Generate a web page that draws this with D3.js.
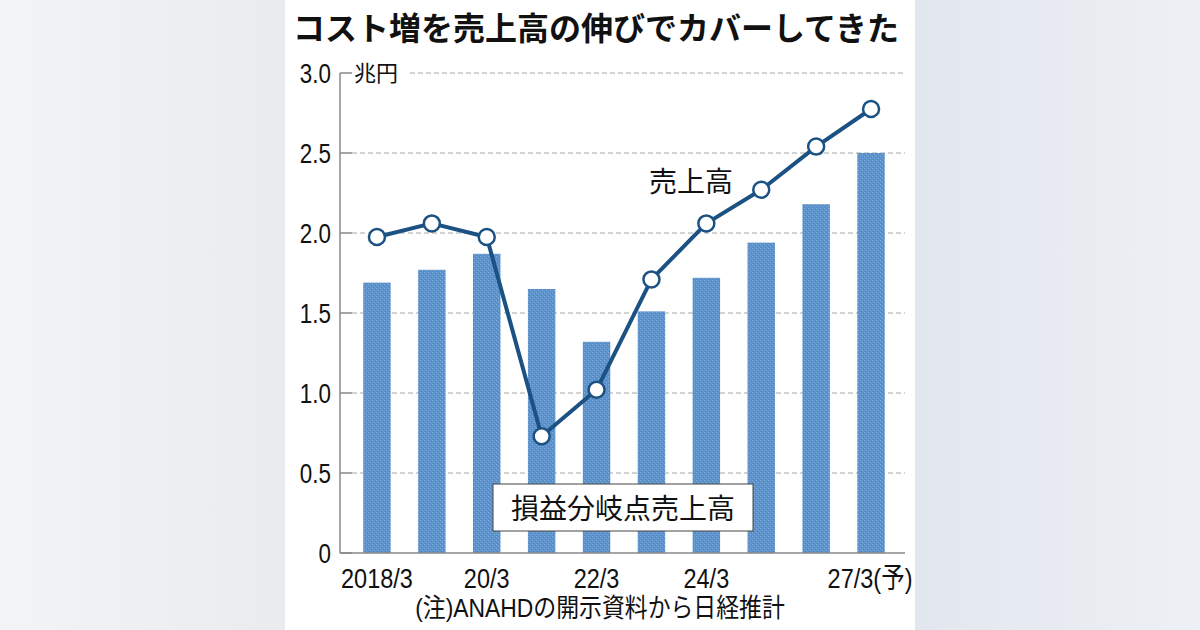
<!DOCTYPE html>
<html lang="ja">
<head>
<meta charset="utf-8">
<title>コスト増を売上高の伸びでカバーしてきた</title>
<script src="https://cdn.jsdelivr.net/npm/d3@7"></script>
<style>
  body { margin: 0; }
  svg { display: block; }
</style>
</head>
<body>
<script>
const width = 1200;
const height = 630;

// data (兆円)
const categories = ["18/3", "19/3", "20/3", "21/3", "22/3", "23/3", "24/3", "25/3", "26/3", "27/3"];
const tickLabels = ["2018/3", "", "20/3", "", "22/3", "", "24/3", "", "", "27/3(予)"];
const breakEven = [1.69, 1.77, 1.87, 1.65, 1.32, 1.51, 1.72, 1.94, 2.18, 2.50];
const sales = [1.975, 2.06, 1.975, 0.73, 1.02, 1.71, 2.06, 2.27, 2.54, 2.775];
const yTicks = [0, 0.5, 1.0, 1.5, 2.0, 2.5, 3.0];

const numFont = "'Liberation Sans', Arial, 'Noto Sans CJK JP', sans-serif";
const jpFont = "'Noto Sans CJK JP', sans-serif";
const lineColor = "#1b5283";

const x = d3.scaleBand()
    .domain(categories)
    .range([349.5, 898.5])
    .paddingInner(0.5)
    .paddingOuter(0.25);

const y = d3.scaleLinear()
    .domain([0, 3])
    .range([553, 73]);

const svg = d3.select("body").append("svg")
    .attr("width", width)
    .attr("height", height);

const defs = svg.append("defs");

// background gradient behind the white panel
const bg = defs.append("linearGradient").attr("id", "bg");
bg.append("stop").attr("offset", "0%").attr("stop-color", "#f3f4f5");
bg.append("stop").attr("offset", "24%").attr("stop-color", "#e9ebee");
bg.append("stop").attr("offset", "76%").attr("stop-color", "#e2e7ef");
bg.append("stop").attr("offset", "100%").attr("stop-color", "#edf0f4");

// speckled bar texture
const pat = defs.append("pattern")
    .attr("id", "barTex")
    .attr("width", 4).attr("height", 4)
    .attr("patternUnits", "userSpaceOnUse");
pat.append("rect").attr("width", 4).attr("height", 4).attr("fill", "#5d93cc");
pat.append("rect").attr("x", 0).attr("y", 0).attr("width", 1).attr("height", 1).attr("fill", "#82addd");
pat.append("rect").attr("x", 2).attr("y", 2).attr("width", 1).attr("height", 1).attr("fill", "#82addd");
pat.append("rect").attr("x", 3).attr("y", 1).attr("width", 1).attr("height", 1).attr("fill", "#5287c2");
pat.append("rect").attr("x", 1).attr("y", 3).attr("width", 1).attr("height", 1).attr("fill", "#5287c2");

svg.append("rect").attr("width", width).attr("height", height).attr("fill", "url(#bg)");
svg.append("rect").attr("x", 285).attr("y", 0).attr("width", 630).attr("height", height).attr("fill", "#fff");

// title
svg.append("text")
    .attr("x", 293).attr("y", 40)
    .attr("font-family", jpFont)
    .attr("font-weight", "bold")
    .attr("font-size", "32px")
    .attr("fill", "#111")
    .text("コスト増を売上高の伸びでカバーしてきた");

// gridlines (dashed) and short solid ticks
const grid = svg.append("g");
grid.selectAll("line.grid")
    .data(yTicks.filter(d => d > 0))
    .join("line")
    .attr("class", "grid")
    .attr("x1", d => d === 3 ? 410 : 352)
    .attr("x2", 905)
    .attr("y1", d => y(d)).attr("y2", d => y(d))
    .attr("stroke", "#a8a8a8")
    .attr("stroke-width", 1)
    .attr("stroke-dasharray", "5,3");

grid.selectAll("line.tick")
    .data(yTicks)
    .join("line")
    .attr("class", "tick")
    .attr("x1", 340).attr("x2", 352)
    .attr("y1", d => y(d)).attr("y2", d => y(d))
    .attr("stroke", "#888")
    .attr("stroke-width", 1.5);

// y tick labels (narrow numerals)
svg.selectAll("text.ylab")
    .data(yTicks)
    .join("text")
    .attr("class", "ylab")
    .attr("transform", d => `translate(331,${y(d) + 10}) scale(0.8,1)`)
    .attr("text-anchor", "end")
    .attr("font-family", numFont)
    .attr("font-size", "28px")
    .attr("fill", "#111")
    .text(d => d === 0 ? "0" : d.toFixed(1));

svg.append("text")
    .attr("x", 354).attr("y", y(3) + 8)
    .attr("font-family", jpFont)
    .attr("font-size", "22px")
    .attr("fill", "#111")
    .text("兆円");

// bars
svg.selectAll("rect.bar")
    .data(breakEven)
    .join("rect")
    .attr("class", "bar")
    .attr("x", (d, i) => x(categories[i]))
    .attr("y", d => y(d))
    .attr("width", x.bandwidth())
    .attr("height", d => y(0) - y(d))
    .attr("fill", "url(#barTex)");

// axis lines
svg.append("line")
    .attr("x1", 340).attr("x2", 340)
    .attr("y1", y(3)).attr("y2", y(0))
    .attr("stroke", "#888").attr("stroke-width", 1.5);
svg.append("line")
    .attr("x1", 340).attr("x2", 905)
    .attr("y1", y(0)).attr("y2", y(0))
    .attr("stroke", "#888").attr("stroke-width", 1.5);

// x labels
svg.selectAll("text.xlab")
    .data(categories)
    .join("text")
    .attr("class", "xlab")
    .attr("transform", (d, i) => `translate(${x(d) + x.bandwidth() / 2 + (i === 9 ? -1 : 0)},588) scale(0.84,1)`)
    .attr("text-anchor", "middle")
    .attr("font-family", numFont)
    .attr("font-size", "28px")
    .attr("fill", "#111")
    .text((d, i) => tickLabels[i]);

// sales line
const line = d3.line()
    .x((d, i) => x(categories[i]) + x.bandwidth() / 2)
    .y(d => y(d));

svg.append("path")
    .datum(sales)
    .attr("d", line)
    .attr("fill", "none")
    .attr("stroke", lineColor)
    .attr("stroke-width", 4)
    .attr("stroke-linejoin", "round");

svg.selectAll("circle.pt")
    .data(sales)
    .join("circle")
    .attr("class", "pt")
    .attr("cx", (d, i) => x(categories[i]) + x.bandwidth() / 2)
    .attr("cy", d => y(d))
    .attr("r", 8)
    .attr("fill", "#fff")
    .attr("stroke", lineColor)
    .attr("stroke-width", 2.5);

svg.append("text")
    .attr("x", 649).attr("y", 192)
    .attr("font-family", jpFont)
    .attr("font-size", "28px")
    .attr("fill", "#111")
    .text("売上高");

// break-even label box
svg.append("rect")
    .attr("x", 493).attr("y", 484)
    .attr("width", 260).attr("height", 47)
    .attr("fill", "#fff")
    .attr("stroke", "#444")
    .attr("stroke-width", 1);
svg.append("text")
    .attr("x", 623).attr("y", 519)
    .attr("text-anchor", "middle")
    .attr("font-family", jpFont)
    .attr("font-size", "28px")
    .attr("fill", "#111")
    .text("損益分岐点売上高");

// note
svg.append("text")
    .attr("transform", "translate(600,617) scale(0.88,1)")
    .attr("text-anchor", "middle")
    .attr("font-family", numFont)
    .attr("font-size", "26px")
    .attr("fill", "#111")
    .text("(注)ANAHDの開示資料から日経推計");
</script>
</body>
</html>
